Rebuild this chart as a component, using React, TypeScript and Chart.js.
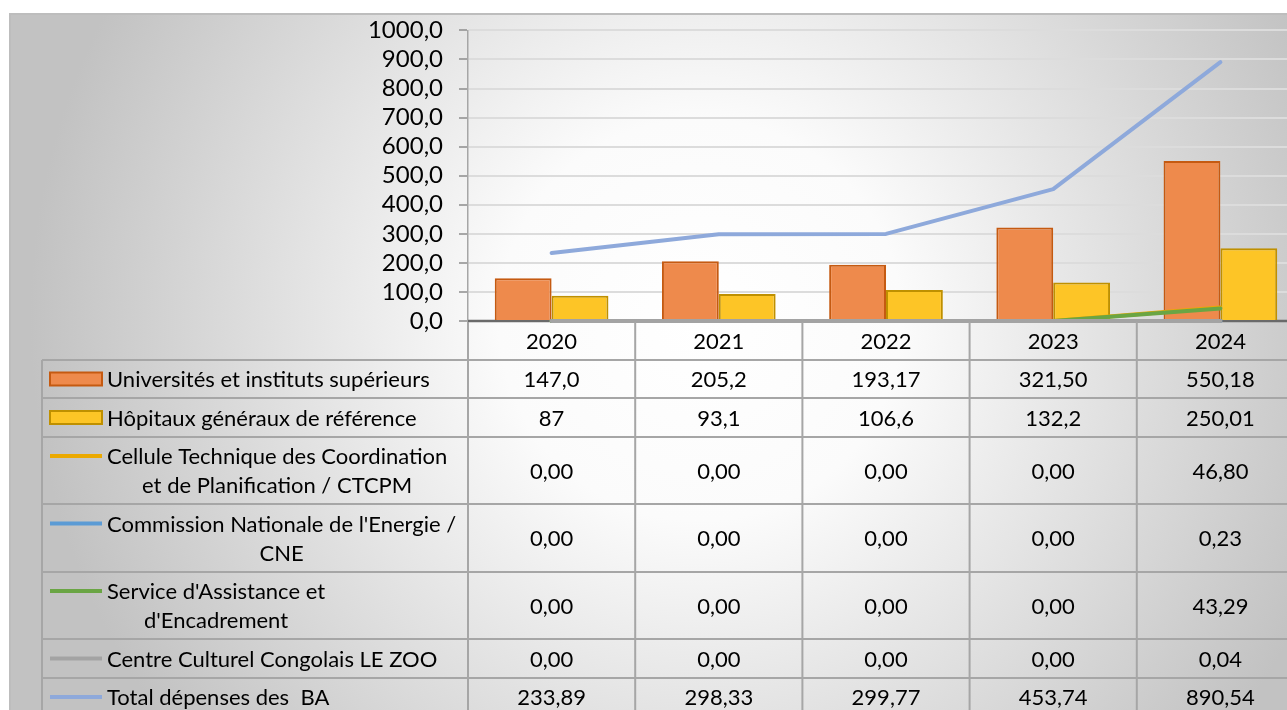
import React, { useEffect, useRef } from "react";
import { Chart, registerables } from "chart.js";

Chart.register(...registerables);

// ---------- DATA ----------
const years = ["2020", "2021", "2022", "2023", "2024"];
const universites = [147.0, 205.2, 193.17, 321.5, 550.18];
const hopitaux = [87, 93.1, 106.6, 132.2, 250.01];
const ctcpm = [0, 0, 0, 0, 46.8];
const cne = [0, 0, 0, 0, 0.23];
const service = [0, 0, 0, 0, 43.29];
const centre = [0, 0, 0, 0, 0.04];
const total = [233.89, 298.33, 299.77, 453.74, 890.54];

// decimals shown in the data table for each cell
const universitesDecimals = [1, 1, 2, 2, 2];
const hopitauxDecimals = [0, 1, 1, 1, 2];
const twoDecimals = [2, 2, 2, 2, 2];

const labelUniversites = ["Universités et instituts supérieurs"];
const labelHopitaux = ["Hôpitaux généraux de référence"];
const labelCtcpm = ["Cellule Technique des Coordination", "et de Planification / CTCPM"];
const labelCne = ["Commission Nationale de l'Energie /", "CNE"];
const labelService = ["Service d'Assistance et", "d'Encadrement"];
const labelCentre = ["Centre Culturel Congolais LE ZOO"];
const labelTotal = ["Total dépenses des  BA"];

const yTicksMin = 0;
const yTicksMax = 1000;
const yTicksStep = 100;

// ---------- STYLE ----------
const FONT = "Lato";
const TABLE_FONT_SIZE = 22;
const TICK_FONT_SIZE = 24;
const C_UNIV = "#EE8A4C";
const C_UNIV_B = "#C55A11";
const C_HOP = "#FDC526";
const C_HOP_B = "#BF9000";
const C_CTCPM = "#EBA900";
const C_CNE = "#5B9BD5";
const C_SERVICE = "#6AA544";
const C_CENTRE = "#A3A3A3";
const C_TOTAL = "#8EA9DB";

const fmt = (v: number, d: number) => v.toFixed(d).replace(".", ",");

type RowDef = {
  kind: "bar" | "line";
  color: string;
  border?: string;
  label: string[];
  values: number[];
  decimals: number[];
};

const rows: RowDef[] = [
  { kind: "bar", color: C_UNIV, border: C_UNIV_B, label: labelUniversites, values: universites, decimals: universitesDecimals },
  { kind: "bar", color: C_HOP, border: C_HOP_B, label: labelHopitaux, values: hopitaux, decimals: hopitauxDecimals },
  { kind: "line", color: C_CTCPM, label: labelCtcpm, values: ctcpm, decimals: twoDecimals },
  { kind: "line", color: C_CNE, label: labelCne, values: cne, decimals: twoDecimals },
  { kind: "line", color: C_SERVICE, label: labelService, values: service, decimals: twoDecimals },
  { kind: "line", color: C_CENTRE, label: labelCentre, values: centre, decimals: twoDecimals },
  { kind: "line", color: C_TOTAL, label: labelTotal, values: total, decimals: twoDecimals },
];

const CANVAS_W = 1304;
const CANVAS_H = 720;
const TABLE_TOP = 360;
const TABLE_LEFT = 42;
const rowHeights = [38, 39, 67, 68, 67, 39, 38];
const LINE_H = 29;

const bgPlugin = {
  id: "bgPlugin",
  beforeDraw(chart: any) {
    const { ctx, width, height } = chart;
    ctx.save();
    const g = ctx.createRadialGradient(700, 320, 0, 700, 320, 670);
    g.addColorStop(0, "#FFFFFF");
    g.addColorStop(0.3, "#FBFBFB");
    g.addColorStop(1, "#C2C2C2");
    ctx.fillStyle = g;
    ctx.fillRect(9, 13, width - 9, height - 13);
    ctx.strokeStyle = "#BDBDBD";
    ctx.lineWidth = 2;
    ctx.beginPath();
    ctx.moveTo(10, height);
    ctx.lineTo(10, 14);
    ctx.lineTo(width, 14);
    ctx.stroke();
    ctx.restore();
  },
};

const axisPlugin = {
  id: "axisPlugin",
  beforeDatasetsDraw(chart: any) {
    const { ctx, chartArea } = chart;
    const y0 = chart.scales.y.getPixelForValue(0);
    ctx.save();
    ctx.strokeStyle = "#6A6A6A";
    ctx.lineWidth = 2.5;
    ctx.beginPath();
    ctx.moveTo(chartArea.left, y0);
    ctx.lineTo(chartArea.right, y0);
    ctx.stroke();
    ctx.restore();
  },
};

const tablePlugin = {
  id: "tablePlugin",
  afterDraw(chart: any) {
    const { ctx } = chart;
    const xs = chart.scales.x;
    const y0 = chart.scales.y.getPixelForValue(0);
    const n = years.length;
    const colW = (xs.right - xs.left) / n;
    const bottom = TABLE_TOP + rowHeights.reduce((a, b) => a + b, 0);

    ctx.save();
    ctx.strokeStyle = "#A6A6A6";
    ctx.lineWidth = 2;
    for (let i = 0; i <= n; i++) {
      const x = xs.getPixelForValue(0) - colW / 2 + i * colW;
      ctx.beginPath();
      ctx.moveTo(x, y0 + 1);
      ctx.lineTo(x, bottom);
      ctx.stroke();
    }
    ctx.beginPath();
    ctx.moveTo(TABLE_LEFT, TABLE_TOP);
    ctx.lineTo(TABLE_LEFT, bottom);
    ctx.stroke();
    let yy = TABLE_TOP;
    const hl: number[] = [yy];
    rowHeights.forEach((h) => {
      yy += h;
      hl.push(yy);
    });
    hl.forEach((y) => {
      ctx.beginPath();
      ctx.moveTo(TABLE_LEFT, y);
      ctx.lineTo(xs.right, y);
      ctx.stroke();
    });

    ctx.fillStyle = "#000";
    ctx.font = `${TABLE_FONT_SIZE}px ${FONT}`;
    ctx.textBaseline = "middle";
    ctx.textAlign = "center";
    years.forEach((yr, i) => {
      ctx.fillText(yr, xs.getPixelForValue(i), (y0 + TABLE_TOP) / 2 + 1);
    });

    let top = TABLE_TOP;
    rows.forEach((r, ri) => {
      const h = rowHeights[ri];
      const cy = top + h / 2;
      const nl = r.label.length;
      const firstY = cy - ((nl - 1) * LINE_H) / 2;
      if (r.kind === "bar") {
        ctx.fillStyle = r.color;
        ctx.fillRect(50, firstY - 6.5, 52, 13);
        ctx.strokeStyle = r.border;
        ctx.lineWidth = 2;
        ctx.strokeRect(50, firstY - 6.5, 52, 13);
      } else {
        ctx.strokeStyle = r.color;
        ctx.lineWidth = 4;
        ctx.beginPath();
        ctx.moveTo(50, firstY);
        ctx.lineTo(102, firstY);
        ctx.stroke();
      }
      ctx.fillStyle = "#000";
      ctx.font = `${TABLE_FONT_SIZE}px ${FONT}`;
      const widths = r.label.map((l) => ctx.measureText(l).width);
      const bw = Math.max(...widths);
      ctx.textAlign = "center";
      r.label.forEach((l, li) => {
        ctx.fillText(l, 107 + bw / 2, firstY + li * LINE_H + 1);
      });
      r.values.forEach((v, i) => {
        ctx.fillText(fmt(v, r.decimals[i]), xs.getPixelForValue(i), cy + 1);
      });
      top += h;
    });
    ctx.restore();
  },
};

export default function App() {
  const ref = useRef<HTMLCanvasElement | null>(null);

  useEffect(() => {
    if (!ref.current) return;
    const lineDs = (label: string, data: number[], color: string, order: number) => ({
      type: "line" as const,
      label,
      data,
      borderColor: color,
      backgroundColor: color,
      borderWidth: 4,
      pointRadius: 0,
      tension: 0,
      fill: false,
      clip: false as any,
      order,
      borderCapStyle: "round" as const,
      borderJoinStyle: "round" as const,
    });
    const chart = new Chart(ref.current, {
      data: {
        labels: years,
        datasets: [
          {
            type: "bar",
            label: labelUniversites.join(" "),
            data: universites,
            backgroundColor: C_UNIV,
            borderColor: C_UNIV_B,
            borderWidth: 2,
            order: 6,
          },
          {
            type: "bar",
            label: labelHopitaux.join(" "),
            data: hopitaux,
            backgroundColor: C_HOP,
            borderColor: C_HOP_B,
            borderWidth: 2,
            order: 7,
          },
          lineDs(labelCtcpm.join(" "), ctcpm, C_CTCPM, 5),
          lineDs(labelCne.join(" "), cne, C_CNE, 4),
          lineDs(labelService.join(" "), service, C_SERVICE, 3),
          lineDs(labelCentre.join(" "), centre, C_CENTRE, 2),
          lineDs(labelTotal.join(" "), total, C_TOTAL, 1),
        ] as any,
      },
      options: {
        responsive: false,
        animation: false,
        devicePixelRatio: 1,
        layout: { padding: { left: 0, top: 30, right: 0, bottom: CANVAS_H - 321 } },
        datasets: {
          bar: { categoryPercentage: 0.68, barPercentage: 1 },
        },
        plugins: {
          legend: { display: false },
          tooltip: { enabled: false },
          title: { display: false },
        },
        scales: {
          x: {
            type: "category",
            display: false,
            offset: true,
          },
          y: {
            min: yTicksMin,
            max: yTicksMax,
            afterFit: (s: any) => {
              s.width = 468;
            },
            ticks: {
              stepSize: yTicksStep,
              autoSkip: false,
              padding: 16,
              color: "#000",
              font: { family: FONT, size: TICK_FONT_SIZE },
              callback: (v: any) => fmt(Number(v), 1),
            },
            grid: {
              color: "#DCDCDC",
              lineWidth: 2,
              drawTicks: true,
              tickLength: 9,
              tickColor: "#8C8C8C",
              tickWidth: 1.5,
            },
            border: { display: true, color: "#A6A6A6", width: 1.5 },
          },
        },
      } as any,
      plugins: [bgPlugin, axisPlugin, tablePlugin],
    });
    return () => chart.destroy();
  }, []);

  return (
    <div
      style={{
        position: "fixed",
        left: 0,
        top: 0,
        width: 1287,
        height: 710,
        overflow: "hidden",
        background: "#fff",
      }}
    >
      <canvas
        ref={ref}
        width={CANVAS_W}
        height={CANVAS_H}
        style={{ display: "block", width: CANVAS_W, height: CANVAS_H }}
      />
    </div>
  );
}
